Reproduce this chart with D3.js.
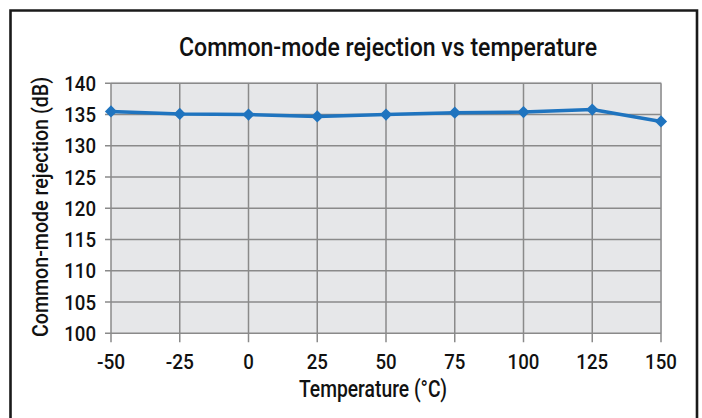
<!DOCTYPE html>
<html>
<head>
<meta charset="utf-8">
<script src="https://cdn.jsdelivr.net/npm/d3@7"></script>
<style>
  html, body { margin: 0; padding: 0; background: #fff; }
  svg { display: block; }
  text { font-family: Roboto, "Liberation Sans", Arial, sans-serif; fill: #111; }
</style>
</head>
<body>
<svg id="chart" width="702" height="418"></svg>
<script>
const temperatures = [-50, -25, 0, 25, 50, 75, 100, 125, 150];
const rejection = [135.5, 135.1, 135.0, 134.7, 135.0, 135.3, 135.4, 135.8, 133.9];
const xTicks = [-50, -25, 0, 25, 50, 75, 100, 125, 150];
const yTicks = [100, 105, 110, 115, 120, 125, 130, 135, 140];
const titleText = "Common-mode rejection vs temperature";
const xTitle = "Temperature (°C)";
const yTitle = "Common-mode rejection (dB)";

(function () {
const svg = d3.select("#chart");
const W = 702, H = 418;
const pLeft = 111, pRight = 661, pTop = 83.3, pBottom = 333.3;

const x = d3.scaleLinear().domain([-50, 150]).range([pLeft, pRight]);
const y = d3.scaleLinear().domain([100, 140]).range([pBottom, pTop]);

// width of a condensed numeric label
const labelWidth = s => String(s).replace("-", "").length * 10.6 + (String(s).includes("-") ? 7 : 0);

// outer frame (bottom edge out of view)
svg.append("path")
  .attr("d", `M10.5,${H + 5} L10.5,10.5 L697,10.5 L697,${H + 5}`)
  .attr("fill", "none").attr("stroke", "#1a1a1a").attr("stroke-width", 2.6);

// plot background
svg.append("rect")
  .attr("x", pLeft).attr("y", pTop - 1.5)
  .attr("width", pRight - pLeft + 1).attr("height", pBottom - pTop + 2)
  .attr("fill", "#e6e7e9");

const gridColor = "#8a8a8a";
svg.append("g").selectAll("line").data(yTicks).join("line")
  .attr("x1", pLeft - 6).attr("x2", pRight)
  .attr("y1", d => y(d)).attr("y2", d => y(d))
  .attr("stroke", gridColor).attr("stroke-width", 1.5);
svg.append("g").selectAll("line").data(xTicks).join("line")
  .attr("x1", d => x(d)).attr("x2", d => x(d))
  .attr("y1", pTop).attr("y2", pBottom + 9)
  .attr("stroke", gridColor).attr("stroke-width", 1.5);

// y tick labels
svg.append("g").selectAll("text").data(yTicks).join("text")
  .attr("x", 96).attr("y", d => y(d)).attr("dy", "0.36em")
  .attr("text-anchor", "end")
  .attr("font-size", 21).attr("font-weight", 500)
  .attr("textLength", d => labelWidth(d)).attr("lengthAdjust", "spacingAndGlyphs")
  .text(d => d);

// x tick labels
svg.append("g").selectAll("text").data(xTicks).join("text")
  .attr("x", d => x(d)).attr("y", 368.5)
  .attr("text-anchor", "middle")
  .attr("font-size", 20.5).attr("font-weight", 500)
  .attr("textLength", d => labelWidth(d)).attr("lengthAdjust", "spacingAndGlyphs")
  .text(d => d);

// line
const line = d3.line().x((d, i) => x(temperatures[i])).y(d => y(d));
svg.append("path").datum(rejection)
  .attr("d", line)
  .attr("fill", "none").attr("stroke", "#1f74bf").attr("stroke-width", 3.5)
  .attr("stroke-linejoin", "round");

// diamond markers
const diamond = d3.symbol().type(d3.symbolDiamond2).size(95);
svg.append("g").selectAll("path").data(rejection).join("path")
  .attr("d", diamond)
  .attr("transform", (d, i) => `translate(${x(temperatures[i])},${y(d)})`)
  .attr("fill", "#1f74bf");

// title
svg.append("text")
  .attr("x", 388).attr("y", 56)
  .attr("text-anchor", "middle")
  .attr("font-size", 26).attr("font-weight", 500)
  .attr("textLength", 418).attr("lengthAdjust", "spacingAndGlyphs")
  .text(titleText);

// x title
svg.append("text")
  .attr("x", 373).attr("y", 397)
  .attr("text-anchor", "middle")
  .attr("font-size", 23).attr("font-weight", 500)
  .attr("textLength", 148).attr("lengthAdjust", "spacingAndGlyphs")
  .text(xTitle);

// y title
svg.append("text")
  .attr("transform", "translate(48,207) rotate(-90)")
  .attr("text-anchor", "middle")
  .attr("font-size", 22).attr("font-weight", 500)
  .attr("textLength", 260).attr("lengthAdjust", "spacingAndGlyphs")
  .text(yTitle);
})();
</script>
</body>
</html>
